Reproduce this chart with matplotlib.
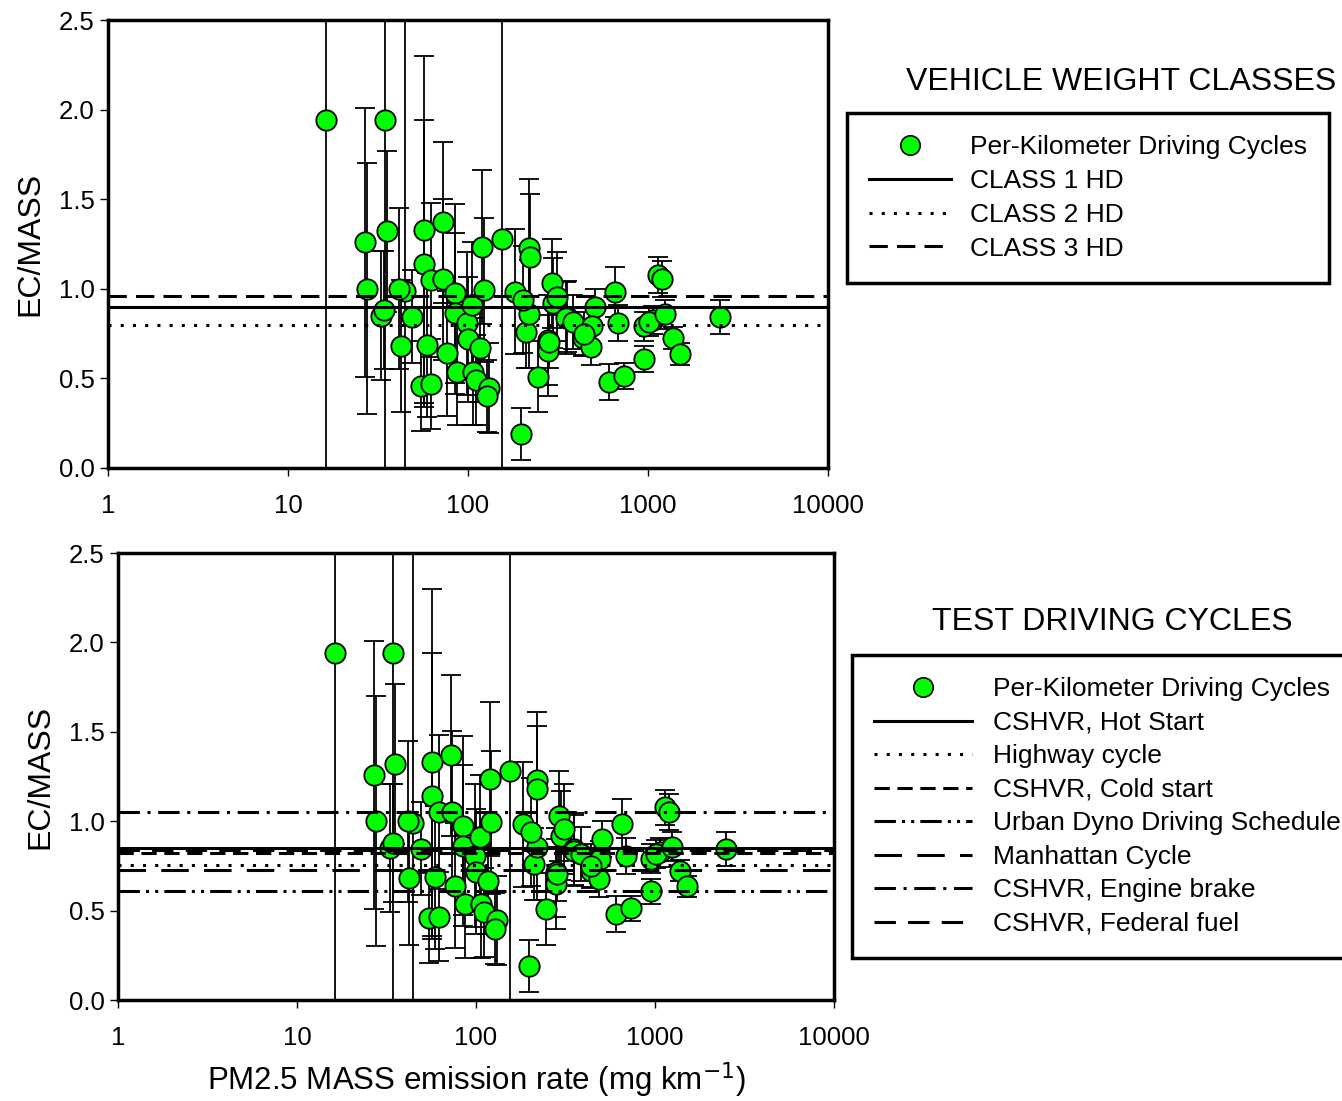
import matplotlib
matplotlib.use("Agg")
import matplotlib.pyplot as plt
from matplotlib.lines import Line2D

plt.rcParams['font.family'] = ['Liberation Sans', 'DejaVu Sans']

# PM2.5 mass emission rate (mg/km), EC/MASS ratio and its uncertainty
pm_rate = [16.3, 34.6, 26.8, 27.5, 35.5, 33.0, 34.2, 44.6, 41.5, 42.4,
           49.0, 57.0, 57.0, 62.1, 59.1, 54.6, 62.0, 72.2, 73.0, 84.7,
           76.0, 84.7, 87.0, 98.5, 100.0, 105.0, 106.5, 116.5, 111.0, 131.0,
           127.0, 119.0, 122.0, 155.0, 197.0, 183.0, 218.0, 220.0, 211.0, 218.0,
           203.0, 245.0, 279.0, 279.0, 292.0, 297.0, 312.0, 354.0, 351.0, 385.0,
           437.0, 484.0, 506.0, 490.0, 654.0, 684.0, 609.0, 735.0, 948.0, 955.0,
           1064.0, 1016.0, 1140.0, 1198.0, 1250.0, 1372.0, 1509.0, 2506.0, 283.0, 440.0]
ec_mass = [1.94, 1.94, 1.26, 1.00, 1.32, 0.85, 0.88, 0.99, 1.00, 0.68,
           0.845, 1.33, 1.14, 1.05, 0.686, 0.458, 0.467, 1.37, 1.053, 0.975,
           0.64, 0.863, 0.537, 0.807, 0.718, 0.91, 0.537, 0.668, 0.49, 0.445,
           0.40, 1.235, 0.993, 1.28, 0.188, 0.984, 1.23, 1.18, 0.76, 0.858,
           0.94, 0.51, 0.714, 0.65, 1.03, 0.92, 0.956, 0.845, 0.835, 0.816,
           0.724, 0.677, 0.90, 0.79, 0.984, 0.807, 0.48, 0.513, 0.608, 0.79,
           0.826, 0.816, 1.077, 1.053, 0.858, 0.724, 0.636, 0.845, 0.705, 0.75]
ec_err = [3.0, 3.0, 0.75, 0.70, 0.45, 0.36, 0.33, 3.0, 0.45, 0.37,
          0.26, 0.97, 0.80, 0.43, 0.40, 0.25, 0.25, 0.45, 0.45, 0.50,
          0.35, 0.45, 0.30, 0.40, 0.35, 0.35, 0.30, 0.30, 0.25, 0.25,
          0.20, 0.43, 0.40, 3.0, 0.145, 0.35, 0.38, 0.35, 0.20, 0.30,
          0.30, 0.20, 0.25, 0.25, 0.25, 0.25, 0.25, 0.20, 0.20, 0.15,
          0.10, 0.10, 0.10, 0.10, 0.14, 0.10, 0.10, 0.07, 0.07, 0.08,
          0.08, 0.08, 0.10, 0.10, 0.08, 0.06, 0.06, 0.095, 0.15, 0.12]

# reference ratios
class_names = ['CLASS 1 HD', 'CLASS 2 HD', 'CLASS 3 HD']
class_values = [0.90, 0.80, 0.96]
class_styles = ['-', (0, (1, 3)), (0, (6, 3))]

cycle_names = ['CSHVR, Hot Start', 'Highway cycle', 'CSHVR, Cold start',
               'Urban Dyno Driving Schedule', 'Manhattan Cycle',
               'CSHVR, Engine brake', 'CSHVR, Federal fuel']
cycle_values = [0.85, 0.755, 0.82, 0.61, 0.73, 1.05, 0.84]
cycle_styles = ['-', (0, (1, 3)), (0, (5, 2.5)), (0, (7, 2, 1, 2, 1, 2)),
                (0, (9, 5)), (0, (7, 2.5, 1, 2.5)), (0, (7, 4))]

fig = plt.figure(figsize=(13.42, 11.01), dpi=100)
ax1 = fig.add_axes([0.0805, 0.575, 0.5365, 0.4068])
ax2 = fig.add_axes([0.0879, 0.0917, 0.5336, 0.4060])


def draw_panel(ax, names, values, styles):
    ax.errorbar(pm_rate, ec_mass, yerr=ec_err, fmt='none', ecolor='black',
                elinewidth=1.3, capsize=7, capthick=1.3, zorder=2)
    ax.scatter(pm_rate, ec_mass, s=215, c='#00ff00', edgecolors='black',
               linewidths=1.3, zorder=3)
    for v, ls in zip(values, styles):
        ax.axhline(v, color='black', linestyle=ls, linewidth=2.2, zorder=4)
    ax.set_xscale('log')
    ax.set_xlim(1, 10000)
    ax.set_ylim(0, 2.5)
    ax.set_xticks([1, 10, 100, 1000, 10000])
    ax.set_xticklabels(['1', '10', '100', '1000', '10000'])
    ax.set_yticks([0, 0.5, 1.0, 1.5, 2.0, 2.5])
    ax.set_yticklabels(['0.0', '0.5', '1.0', '1.5', '2.0', '2.5'])
    ax.minorticks_off()
    ax.tick_params(axis='both', labelsize=18.5, length=6, width=1, direction='out')
    ax.tick_params(axis='x', pad=13)
    for sp in ax.spines.values():
        sp.set_linewidth(2.5)
    ax.set_ylabel('EC/MASS', fontsize=23, labelpad=10)

    handles = [Line2D([], [], linestyle='none', marker='o', markersize=14,
                      markerfacecolor='#00ff00', markeredgecolor='black',
                      markeredgewidth=1.2)]
    for ls in styles:
        handles.append(Line2D([], [], color='black', linestyle=ls, linewidth=2.2))
    return handles, ['Per-Kilometer Driving Cycles'] + names


h1, l1 = draw_panel(ax1, class_names, class_values, class_styles)
h2, l2 = draw_panel(ax2, cycle_names, cycle_values, cycle_styles)
ax2.set_xlabel('PM2.5 MASS emission rate (mg km$^{-1}$)', fontsize=22.5, labelpad=7)

leg1 = fig.legend(h1, l1, loc='upper left', bbox_to_anchor=(0.6311, 0.8974),
                  fontsize=19, handlelength=3.1, labelspacing=0.37,
                  borderpad=0.85, handletextpad=0.7, borderaxespad=0,
                  fancybox=False, edgecolor='black', framealpha=1)
leg1.get_frame().set_linewidth(2.5)
leg2 = fig.legend(h2, l2, loc='upper left', bbox_to_anchor=(0.6349, 0.4051),
                  fontsize=19, handlelength=3.7, labelspacing=0.36,
                  borderpad=0.85, handletextpad=0.78, borderaxespad=0,
                  fancybox=False, edgecolor='black', framealpha=1)
leg2.get_frame().set_linewidth(2.5)

fig.text(0.8353, 0.9255, 'VEHICLE WEIGHT CLASSES', fontsize=23, ha='center', va='center')
fig.text(0.8286, 0.435, 'TEST DRIVING CYCLES', fontsize=23, ha='center', va='center')

fig.savefig('out.png', dpi=100)
